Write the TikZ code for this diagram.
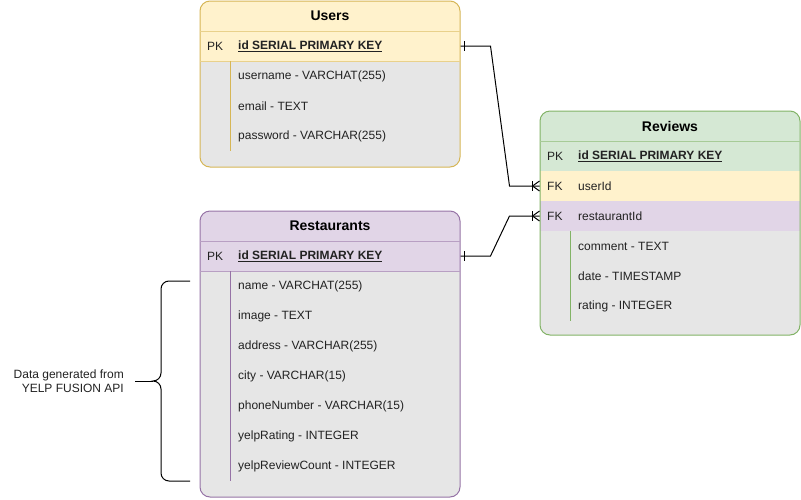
\documentclass[tikz,border=0pt]{standalone}
\usepackage{fontspec}
\setmainfont{Liberation Sans}
\definecolor{yfill}{HTML}{FFF2CC}
\definecolor{ystroke}{HTML}{D6B656}
\definecolor{gfill}{HTML}{D5E8D4}
\definecolor{gstroke}{HTML}{82B366}
\definecolor{pfill}{HTML}{E1D5E7}
\definecolor{pstroke}{HTML}{9673A6}
\definecolor{bodygray}{HTML}{E6E6E6}
\definecolor{txt}{HTML}{222222}
\tikzset{
  tbl/.style={rounded corners=10pt, minimum width=260pt, inner sep=0pt, line width=1pt, fill=bodygray},
  ttl/.style={font=\fontsize{14}{16}\selectfont\bfseries, text=black, inner sep=0pt},
  keytxt/.style={anchor=west, font=\fontsize{12}{14}\selectfont, text=txt, inner sep=0pt},
  fld/.style={anchor=west, font=\fontsize{12}{14}\selectfont, text=txt, inner sep=0pt},
  pkfld/.style={anchor=west, font=\fontsize{12}{14}\selectfont\bfseries, text=txt, inner sep=0pt},
  conn/.style={line width=1pt, black},
  sep/.style={line width=1pt}
}
\begin{document}
\begin{tikzpicture}[x=1pt,y=-1pt]
\useasboundingbox (0,0) rectangle (801,499);

% ---------------- Users ----------------
\node[tbl, draw=ystroke, minimum height=166pt,
  path picture={\fill[yfill, sharp corners] (path picture bounding box.north west) rectangle ([yshift=-60pt]path picture bounding box.north east);}]
  (users) at (330,84) {};
\draw[sep, ystroke!55!yfill] (200,31) -- (460,31);
\draw[sep, ystroke!55!yfill] (200,61) -- (460,61);
\draw[sep, ystroke] (230,61) -- (230,151);
\node[ttl] (u-title) at (330,16) {Users};
\node[keytxt] (u-pk-k) at (207,46) {PK};
\node[pkfld] (u-pk) at (238,46) {\underline{id SERIAL PRIMARY KEY}};
\node[fld] (u-1) at (238,76) {username - VARCHAT(255)};
\node[fld] (u-2) at (238,106) {email - TEXT};
\node[fld] (u-3) at (238,136) {password - VARCHAR(255)};

% ---------------- Reviews ----------------
\node[tbl, draw=gstroke, minimum height=224pt,
  path picture={
    \fill[gfill, sharp corners] (path picture bounding box.north west) rectangle ([yshift=-60pt]path picture bounding box.north east);
    \fill[yfill, sharp corners] ([yshift=-60pt]path picture bounding box.north west) rectangle ([yshift=-90pt]path picture bounding box.north east);
    \fill[pfill, sharp corners] ([yshift=-90pt]path picture bounding box.north west) rectangle ([yshift=-120pt]path picture bounding box.north east);}]
  (reviews) at (670,223) {};
\draw[sep, gstroke!55!gfill] (540,141) -- (800,141);
\draw[sep, gstroke] (570,231) -- (570,321);
\node[ttl] (r-title) at (670,126) {Reviews};
\node[keytxt] (r-pk-k) at (547,156) {PK};
\node[pkfld] (r-pk) at (578,156) {\underline{id SERIAL PRIMARY KEY}};
\node[keytxt] (r-fk1-k) at (547,186) {FK};
\node[fld] (r-fk1) at (578,186) {userId};
\node[keytxt] (r-fk2-k) at (547,216) {FK};
\node[fld] (r-fk2) at (578,216) {restaurantId};
\node[fld] (r-1) at (578,246) {comment - TEXT};
\node[fld] (r-2) at (578,276) {date - TIMESTAMP};
\node[fld] (r-3) at (578,306) {rating - INTEGER};

% ---------------- Restaurants ----------------
\node[tbl, draw=pstroke, minimum height=286pt,
  path picture={\fill[pfill, sharp corners] (path picture bounding box.north west) rectangle ([yshift=-60pt]path picture bounding box.north east);}]
  (rest) at (330,354) {};
\draw[sep, pstroke!55!pfill] (200,241) -- (460,241);
\draw[sep, pstroke!55!pfill] (200,271) -- (460,271);
\draw[sep, pstroke] (230,271) -- (230,481);
\node[ttl] (s-title) at (330,226) {Restaurants};
\node[keytxt] (s-pk-k) at (207,256) {PK};
\node[pkfld] (s-pk) at (238,256) {\underline{id SERIAL PRIMARY KEY}};
\node[fld] (s-1) at (238,286) {name - VARCHAT(255)};
\node[fld] (s-2) at (238,316) {image - TEXT};
\node[fld] (s-3) at (238,346) {address - VARCHAR(255)};
\node[fld] (s-4) at (238,376) {city - VARCHAR(15)};
\node[fld] (s-5) at (238,406) {phoneNumber - VARCHAR(15)};
\node[fld] (s-6) at (238,436) {yelpRating - INTEGER};
\node[fld] (s-7) at (238,466) {yelpReviewCount - INTEGER};

% ---------------- Connectors ----------------
\coordinate (c1a) at (users.east |- u-pk);
\coordinate (c1b) at (reviews.west |- r-fk1);
\coordinate (c2a) at (rest.east |- s-pk);
\coordinate (c2b) at (reviews.west |- r-fk2);
\draw[conn] (c1a) -- ++(30,0) -- ([xshift=-30pt]c1b) -- (c1b);
\draw[conn] (c2a) -- ++(30,0) -- ([xshift=-30pt]c2b) -- (c2b);
% one marks
\draw[conn] ([xshift=4pt]c1a) ++(0,-5) -- ++(0,10);
\draw[conn] ([xshift=4pt]c2a) ++(0,-5) -- ++(0,10);
% one-to-many marks
\draw[conn] ([xshift=-7pt]c1b) ++(0,-5) -- ++(0,10);
\draw[conn] (c1b) ++(0,-5) -- ++(-7,5) -- ++(7,5);
\draw[conn] ([xshift=-7pt]c2b) ++(0,-5) -- ++(0,10);
\draw[conn] (c2b) ++(0,-5) -- ++(-7,5) -- ++(7,5);

% ---------------- Brace ----------------
\coordinate (btop) at (190,281);
\coordinate (bbot) at (190,481);
\coordinate (btip) at (153,381);
\draw[conn] (btop) -- (169,281) to[out=180,in=90] (161,289) -- (161,373)
  to[out=-90,in=0] (btip) to[out=0,in=90] (161,389) -- (161,473)
  to[out=-90,in=180] (169,481) -- (bbot);
\node[align=right, anchor=east, font=\fontsize{12}{14}\selectfont, text=txt, inner sep=0pt] (note) at (124,381) {Data generated from\\YELP FUSION API};
\draw[conn] (135,381) -- (btip);
\end{tikzpicture}
\end{document}
